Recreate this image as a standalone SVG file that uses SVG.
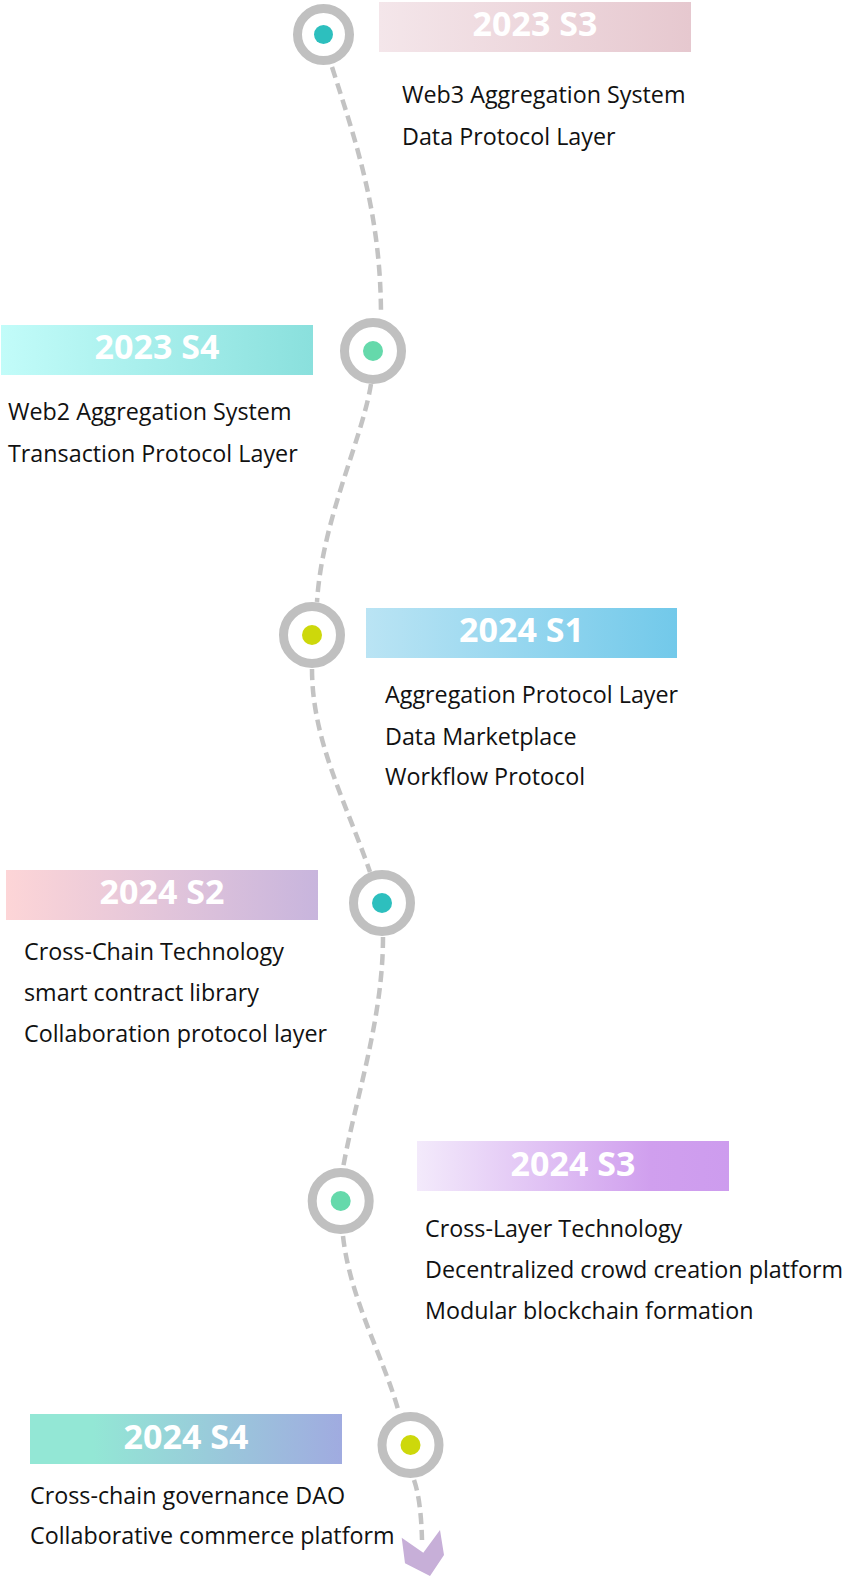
<svg xmlns="http://www.w3.org/2000/svg" width="844" height="1576" viewBox="0 0 844 1576">
<defs>
<linearGradient id="g1" x1="0" y1="0" x2="1" y2="0"><stop offset="0" stop-color="#f4e6ea"/><stop offset="1" stop-color="#e6c8cf"/></linearGradient>
<linearGradient id="g2" x1="0" y1="0" x2="1" y2="0"><stop offset="0" stop-color="#c2fcf9"/><stop offset="1" stop-color="#8ae0dd"/></linearGradient>
<linearGradient id="g3" x1="0" y1="0" x2="1" y2="0"><stop offset="0" stop-color="#bae4f4"/><stop offset="1" stop-color="#72c9ea"/></linearGradient>
<linearGradient id="g4" x1="0" y1="0" x2="1" y2="0"><stop offset="0" stop-color="#fdd5d7"/><stop offset="1" stop-color="#c8b5dd"/></linearGradient>
<linearGradient id="g5" x1="0" y1="0" x2="1" y2="0"><stop offset="0" stop-color="#f3eafb"/><stop offset="0.75" stop-color="#d09fee"/><stop offset="1" stop-color="#cd9cee"/></linearGradient>
<linearGradient id="g6" x1="0" y1="0" x2="1" y2="0"><stop offset="0" stop-color="#93e7d5"/><stop offset="0.2" stop-color="#93e7d5"/><stop offset="1" stop-color="#a0abe0"/></linearGradient>
</defs>
<style>
.ring{fill:#fff;stroke:#c0c0c0;stroke-width:9}
.title{font-family:"Open Sans","Liberation Sans",sans-serif;font-weight:bold;font-size:34px;fill:#fff;text-anchor:middle}
.body{font-family:"Open Sans","Liberation Sans",sans-serif;font-size:23.3px;fill:#111}
.conn{fill:none;stroke:#c3c3c3;stroke-width:4.5;stroke-dasharray:11 6}
</style>
<g id="connectors">
<path class="conn" d="M332 67 C357 145 381 215 381 316"/>
<path class="conn" d="M371 384 C362 440 322 520 317 602"/>
<path class="conn" d="M312 669 C312 740 345 800 370 872"/>
<path class="conn" d="M383 937 C383 1020 355 1100 343 1168"/>
<path class="conn" d="M343 1236 C350 1300 385 1360 399 1413"/>
<path class="conn" d="M414 1480 Q421 1500 422 1540"/>
<polygon id="arrowhead" points="401.7,1537.7 423.3,1552.7 440,1530 444,1555 430,1576 405,1563.3" fill="#c7afd8"/>
</g>
<g id="node1">
<circle class="ring" cx="323.5" cy="34.5" r="26"/>
<circle cx="323.5" cy="34.5" r="9.5" fill="#2dbfbe"/>
<rect x="379" y="2" width="312" height="50" fill="url(#g1)"/>
<text class="title" x="535" y="36">2023 S3</text>
<text class="body" x="402" y="103">Web3 Aggregation System</text>
<text class="body" x="402" y="145">Data Protocol Layer</text>
</g>
<g id="node2">
<circle class="ring" cx="373" cy="351" r="28.5"/>
<circle cx="373" cy="351" r="10" fill="#65d9ab"/>
<rect x="1" y="325" width="312" height="50" fill="url(#g2)"/>
<text class="title" x="157" y="359">2023 S4</text>
<text class="body" x="8" y="420">Web2 Aggregation System</text>
<text class="body" x="8" y="462">Transaction Protocol Layer</text>
</g>
<g id="node3">
<circle class="ring" cx="312" cy="635" r="28.5"/>
<circle cx="312" cy="635" r="10" fill="#cdd80b"/>
<rect x="366" y="608" width="311" height="50" fill="url(#g3)"/>
<text class="title" x="521.5" y="642">2024 S1</text>
<text class="body" x="385" y="703">Aggregation Protocol Layer</text>
<text class="body" x="385" y="745">Data Marketplace</text>
<text class="body" x="385" y="785">Workflow Protocol</text>
</g>
<g id="node4">
<circle class="ring" cx="382" cy="903" r="28.5"/>
<circle cx="382" cy="903" r="10" fill="#2dbfbe"/>
<rect x="6" y="870" width="312" height="50" fill="url(#g4)"/>
<text class="title" x="162" y="904">2024 S2</text>
<text class="body" x="24" y="960">Cross-Chain Technology</text>
<text class="body" x="24" y="1001">smart contract library</text>
<text class="body" x="24" y="1042">Collaboration protocol layer</text>
</g>
<g id="node5">
<circle class="ring" cx="340.7" cy="1201" r="28.5"/>
<circle cx="340.7" cy="1201" r="10" fill="#65d9ab"/>
<rect x="417" y="1141" width="312" height="50" fill="url(#g5)"/>
<text class="title" x="573" y="1176">2024 S3</text>
<text class="body" x="425" y="1237">Cross-Layer Technology</text>
<text class="body" x="425" y="1278">Decentralized crowd creation platform</text>
<text class="body" x="425" y="1319">Modular blockchain formation</text>
</g>
<g id="node6">
<circle class="ring" cx="410.5" cy="1445" r="28.5"/>
<circle cx="410.5" cy="1445" r="10" fill="#cdd80b"/>
<rect x="30" y="1414" width="312" height="50" fill="url(#g6)"/>
<text class="title" x="186" y="1449">2024 S4</text>
<text class="body" x="30" y="1504">Cross-chain governance DAO</text>
<text class="body" x="30" y="1544">Collaborative commerce platform</text>
</g>
</svg>
